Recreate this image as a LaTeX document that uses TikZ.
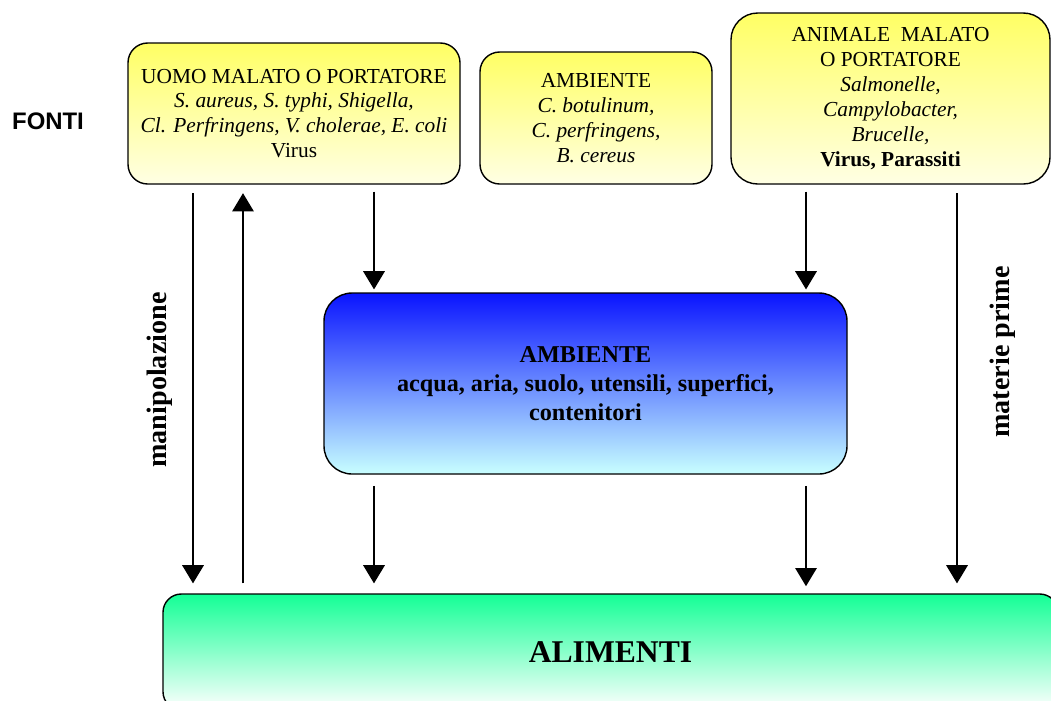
\documentclass[tikz,border=0pt]{standalone}
\usepackage{fontspec}
\setmainfont{Liberation Serif}
\newfontfamily\arialfont{Liberation Sans}
\usetikzlibrary{arrows.meta}
\definecolor{myyellow}{RGB}{255,255,100}
\definecolor{mylightyellow}{RGB}{255,255,228}
\definecolor{myblue}{RGB}{10,20,255}
\definecolor{mycyan}{RGB}{200,255,255}
\definecolor{mygreen}{RGB}{20,255,150}
\def\px{0.025cm}

\begin{document}
\begin{tikzpicture}[x=0.025cm, y=-0.025cm,
  fonte/.style={draw, line width=1pt, rounded corners=14pt, top color=myyellow, bottom color=mylightyellow,
    align=center, inner sep=0pt, font=\fontsize{15.2}{17.7}\selectfont},
  freccia/.style={line width=2.1pt, -{Triangle[width=15pt,length=13pt]}},
  etichetta/.style={rotate=90, font=\bfseries\fontsize{20}{24}\selectfont}]
  \useasboundingbox (0,0) rectangle (1051,700);
  \clip (0,0) rectangle (1051,700);

  \node[font=\arialfont\bfseries\fontsize{17}{20}\selectfont] (fonti) at (48,121) {FONTI};

  % sorgenti
  \node[fonte, minimum width=332*\px, minimum height=141*\px] (uomo) at (294,113.5)
    {UOMO MALATO O PORTATORE\\ \textit{S. aureus, S. typhi, Shigella,}\\
     \textit{Cl. Perfringens, V. cholerae, E. coli}\\ Virus};
  \node[fonte, minimum width=232*\px, minimum height=132*\px] (ambfonte) at (596,118)
    {AMBIENTE\\ \textit{C. botulinum,}\\ \textit{C. perfringens,}\\ \textit{B. cereus}};
  \node[fonte, rounded corners=19pt, minimum width=319*\px, minimum height=171*\px] (animale) at (890.5,98.5)
    {ANIMALE~ MALATO\\ O PORTATORE\\ \textit{Salmonelle,}\\ \textit{Campylobacter,}\\
     \textit{Brucelle,}\\ \textbf{Virus, Parassiti}};

  \node[draw, line width=1pt, rounded corners=20pt, top color=myblue, bottom color=mycyan,
    minimum width=523*\px, minimum height=181*\px, align=center,
    font=\bfseries\fontsize{17.2}{20.6}\selectfont] (ambiente) at (585.5,383.5)
    {AMBIENTE\\ acqua, aria, suolo, utensili, superfici,\\ contenitori};

  \node[draw, line width=1pt, rounded corners=13pt, top color=mygreen, bottom color=white,
    minimum width=895*\px, minimum height=116*\px,
    font=\bfseries\fontsize{22.5}{27}\selectfont] (alimenti) at (610.5,652) {ALIMENTI};

  % colonne delle frecce
  \coordinate (c1) at (193,0);
  \coordinate (c2) at (243,0);
  \coordinate (c3) at (374,0);
  \coordinate (c4) at (806,0);
  \coordinate (c5) at (957,0);

  \draw[freccia, shorten <=6pt, shorten >=7pt] (uomo.south -| c1) -- (alimenti.north -| c1);
  \draw[freccia, shorten <=7pt, shorten >=6pt] (alimenti.north -| c2) -- (uomo.south -| c2);
  \draw[freccia, shorten <=5pt, shorten >=2pt] (uomo.south -| c3) -- (ambiente.north -| c3);
  \draw[freccia, shorten <=5pt, shorten >=2pt] (animale.south -| c4) -- (ambiente.north -| c4);
  \draw[freccia, shorten <=6pt, shorten >=7pt] (animale.south -| c5) -- (alimenti.north -| c5);
  \draw[freccia, shorten <=8pt, shorten >=7pt] (ambiente.south -| c3) -- (alimenti.north -| c3);
  \draw[freccia, shorten <=8pt, shorten >=5pt] (ambiente.south -| c4) -- (alimenti.north -| c4);

  \node[etichetta] (manip) at (160,380) {manipolazione};
  \node[etichetta] (materie) at (1003,352) {materie prime};
\end{tikzpicture}
\end{document}
